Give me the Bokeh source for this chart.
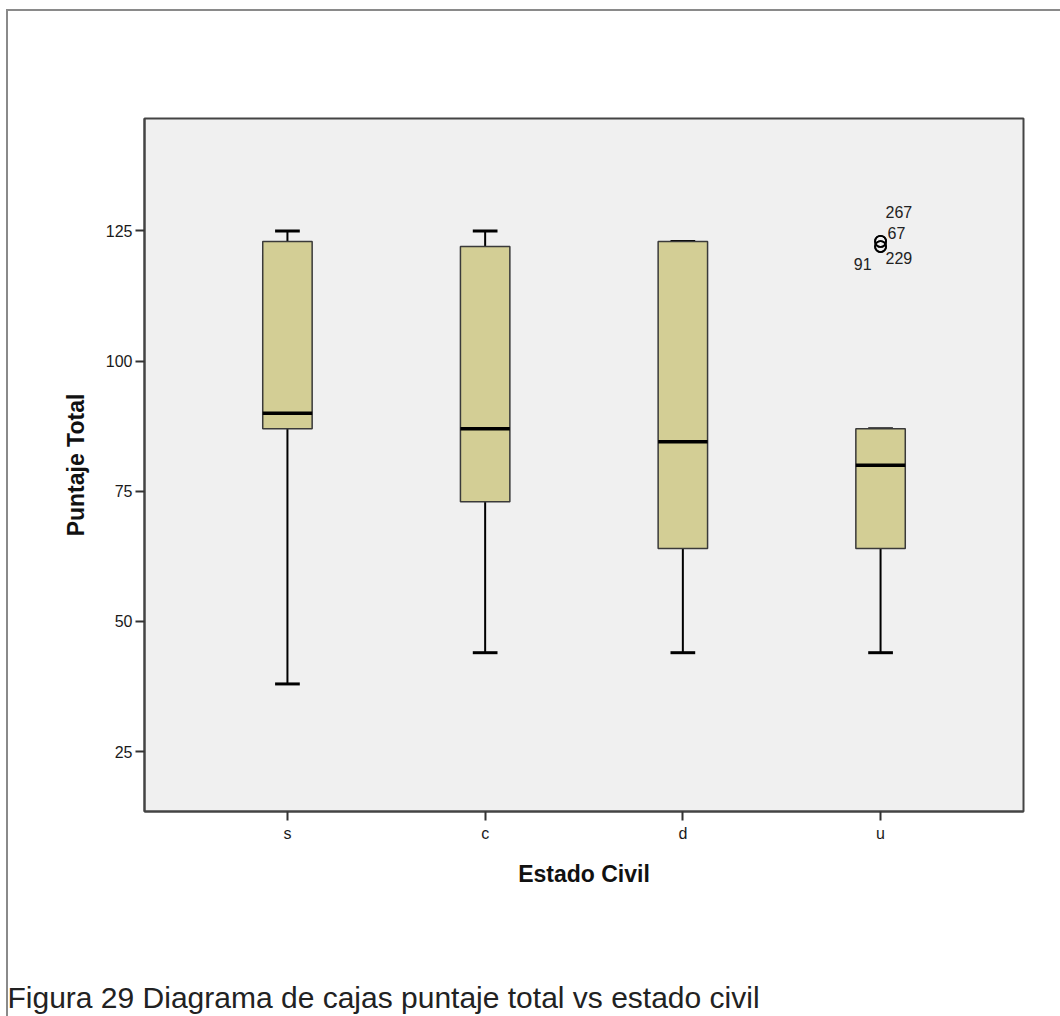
from bokeh.plotting import figure
from bokeh.models import ColumnDataSource, FactorRange, Range1d, FixedTicker, Title
from bokeh.transform import dodge
from bokeh.core.properties import value
from bokeh.embed import file_html
from bokeh.resources import INLINE

# ---- data ----
categories = ["s", "c", "d", "u"]
upper_whisker = [125, 125, 123, 87]
q3 = [123, 122, 123, 87]
median = [90, 87, 84.5, 80]
q1 = [87, 73, 64, 64]
lower_whisker = [38, 44, 44, 44]

outlier_cat = ["u", "u", "u", "u"]
outlier_val = [123, 123, 122, 122]
outlier_id = ["267", "67", "229", "91"]

y_ticks = [25, 50, 75, 100, 125]

x_title = "Estado Civil"
y_title = "Puntaje Total"
caption = "Figura 29 Diagrama de cajas puntaje total vs estado civil"

# ---- styling (label placement, not data) ----
lab_dx = [5, 7, 5, -9]
lab_dy = [-29, -8, 11, 17]
lab_align = ["left", "left", "left", "right"]

FONT = "Liberation Sans"
OFF_X, OFF_Y = 8, 11          # outer page frame offset (margin + border)
W, H = 1060 - 6, 1016 - 9

src = ColumnDataSource(dict(cat=categories, up=upper_whisker, q3=q3, med=median,
                            q1=q1, lo=lower_whisker))
osrc = ColumnDataSource(dict(cat=outlier_cat, val=outlier_val, lab=outlier_id,
                             dx=lab_dx, dy=lab_dy, al=lab_align))

p = figure(width=W, height=H, output_backend="svg", toolbar_location=None,
           x_range=FactorRange(factors=categories, range_padding=0.223,
                               range_padding_units="absolute"),
           y_range=Range1d(13.5, 146.6),
           min_border_left=144 - OFF_X, min_border_right=39, min_border_top=118 - OFF_Y,
           min_border_bottom=207)
p.margin = (9, 0, 0, 6)
p.styles = {"border-left": "2px solid #8a8a8a", "border-top": "2px solid #8a8a8a"}

p.background_fill_color = "#f0f0f0"
p.border_fill_color = "white"
p.outline_line_color = "#444444"
p.outline_line_width = 2
p.xgrid.visible = False
p.ygrid.visible = False

# whiskers
p.segment(x0="cat", y0="q3", x1="cat", y1="up", source=src, line_color="black", line_width=2)
p.segment(x0="cat", y0="q1", x1="cat", y1="lo", source=src, line_color="black", line_width=2)
# caps
p.segment(x0=dodge("cat", -0.0625, range=p.x_range), y0="up",
          x1=dodge("cat", 0.0625, range=p.x_range), y1="up",
          source=src, line_color="black", line_width=3)
p.segment(x0=dodge("cat", -0.0625, range=p.x_range), y0="lo",
          x1=dodge("cat", 0.0625, range=p.x_range), y1="lo",
          source=src, line_color="black", line_width=3)
# boxes
p.vbar(x="cat", width=0.25, top="q3", bottom="q1", source=src,
       fill_color="#d3ce95", line_color="#3a3a3a", line_width=1.5)
# medians
p.segment(x0=dodge("cat", -0.125, range=p.x_range), y0="med",
          x1=dodge("cat", 0.125, range=p.x_range), y1="med",
          source=src, line_color="black", line_width=3.5)

# outliers
p.scatter(x="cat", y="val", source=osrc, marker="circle", size=11,
          fill_color=None, line_color="black", line_width=1.8)
p.text(x="cat", y="val", text="lab", source=osrc, x_offset="dx", y_offset="dy",
       text_align="al", text_baseline="middle", text_font=value(FONT),
       text_font_size="16px", text_color="#222222")

# axes
for ax in (p.xaxis[0], p.yaxis[0]):
    ax.axis_line_color = "#444444"
    ax.axis_line_width = 2
    ax.major_tick_line_color = "#333333"
    ax.major_tick_line_width = 2
    ax.major_tick_in = 0
    ax.major_tick_out = 9
    ax.minor_tick_line_color = None
    ax.major_label_text_font = FONT
    ax.major_label_text_font_size = "16px"
    ax.major_label_text_color = "#1a1a1a"
    ax.axis_label_text_font = FONT
    ax.axis_label_text_font_size = "23px"
    ax.axis_label_text_font_style = "bold"
    ax.axis_label_text_color = "#111111"

p.yaxis.ticker = FixedTicker(ticks=y_ticks)
p.yaxis.major_label_standoff = 3
p.xaxis.major_label_standoff = 4
p.xaxis.axis_label = x_title
p.yaxis.axis_label = y_title
p.xaxis.axis_label_standoff = 16
p.yaxis.axis_label_standoff = 14

# spacer panel, then the caption (as a title below the axis)
p.add_layout(Title(text=" ", standoff=86, text_font_size="1px"), "below")
p.add_layout(Title(text=caption, align="left", offset=-(144 - 7), standoff=0,
                   text_font=FONT, text_font_size="30px", text_font_style="normal",
                   text_color="#222222"), "below")

open("out.html", "w").write(file_html(p, INLINE))
